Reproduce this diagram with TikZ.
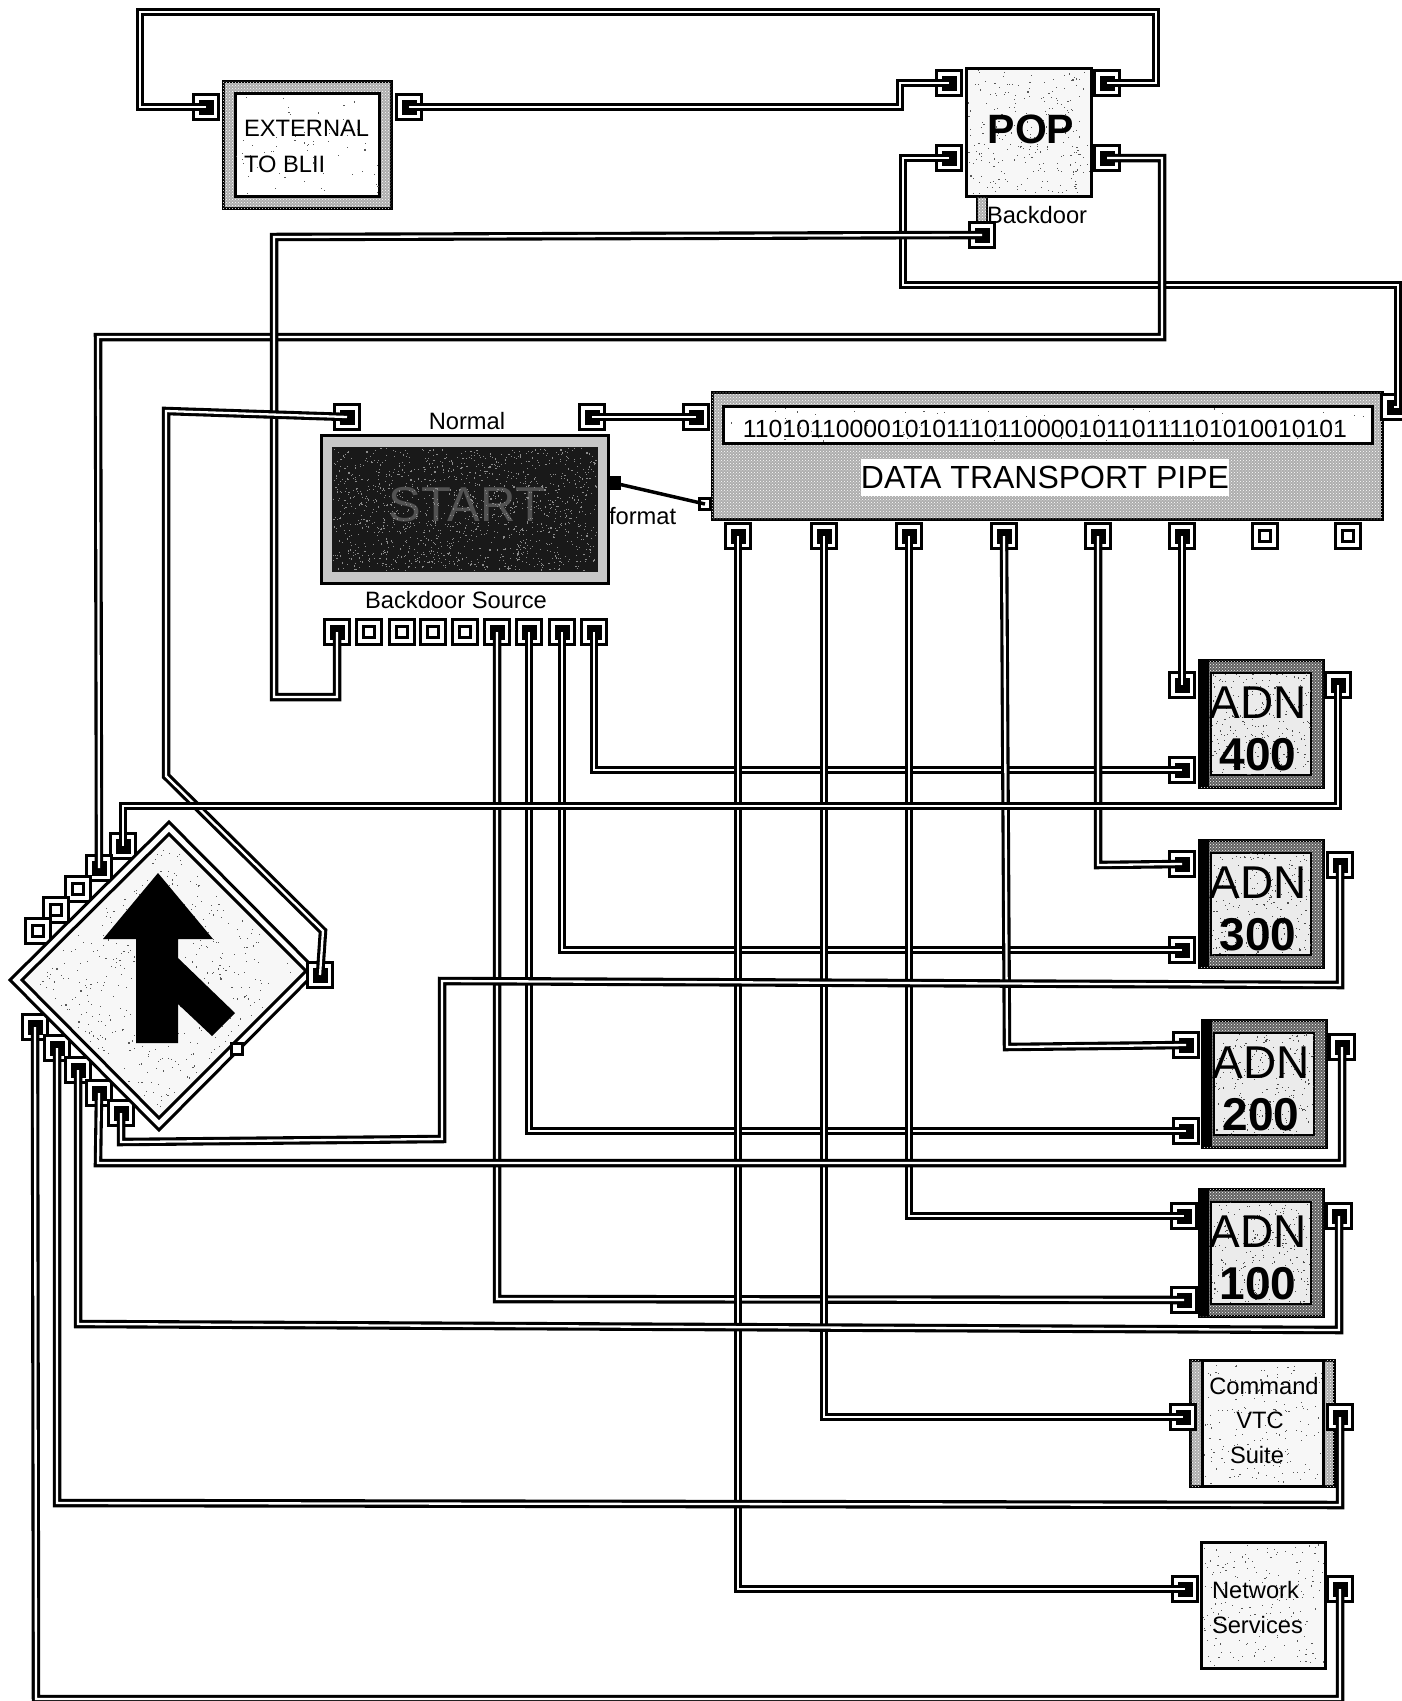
\documentclass[tikz,border=0pt]{standalone}
\usepackage{fontspec}
\setmainfont{Liberation Sans}
\usetikzlibrary{patterns}
\newcommand{\fsz}[1]{\fontsize{#1}{#1}\selectfont}
\tikzset{
  x=1pt,y=-1pt,
  wire/.style={draw=black,line width=3.1pt,double=white,double distance=2.3pt,miter limit=10},
  portouter/.style={draw=black,fill=white,line width=3pt,minimum size=25pt,inner sep=0pt,outer sep=0pt},
  portfull/.style={draw=none,fill=black,minimum size=15pt,inner sep=0pt,outer sep=0pt},
  portempty/.style={draw=black,line width=3.8pt,fill=white,minimum size=11pt,inner sep=0pt,outer sep=0pt},
  tinyport/.style={draw=black,line width=3pt,fill=white,minimum size=11pt,inner sep=0pt,outer sep=0pt},
  tinyfull/.style={draw=black,line width=3pt,fill=black,minimum size=11pt,inner sep=0pt,outer sep=0pt},
  lbl/.style={inner sep=0pt,outer sep=0pt,font=\fsz{23.7}},
  lbll/.style={lbl,anchor=west},
  box/.style={draw=black,line width=3pt,inner sep=0pt,outer sep=0pt,anchor=north west},
  halftone/.style={fill=black!32,postaction={pattern=crosshatch dots,pattern color=white}},
  halfdark/.style={fill=black!62,postaction={pattern=crosshatch dots,pattern color=white}},
}
% connected port: black centre; open port: white centre
\newcommand{\pc}[3]{\node[portouter] (#1) at (#2,#3) {};\node[portfull] (#1-i) at (#1.center) {};}
\newcommand{\po}[3]{\node[portouter] (#1) at (#2,#3) {};\node[portempty] (#1-i) at (#1.center) {};}
% sized rectangle node helper: name, x0, y0, x1, y1, style
\newcommand{\rbox}[6]{%
  \pgfmathsetmacro\bw{#4-#2}\pgfmathsetmacro\bh{#5-#3}%
  \node[box,minimum width=\bw pt,minimum height=\bh pt,#6] (#1) at (#2,#3) {};}
% speckle: origin, vector a, vector b, count, colour
\newcommand{\speckle}[8]{%
  \foreach \q in {1,...,#7}{%
    \pgfmathsetmacro\uu{rnd}\pgfmathsetmacro\vv{rnd}%
    \pgfmathsetmacro\px{#1+\uu*#3+\vv*#5}\pgfmathsetmacro\py{#2+\uu*#4+\vv*#6}%
    \fill[#8] (\px,\py) rectangle +(1.1,1.1);}}
% ADN box: name, left, top, number
\newcommand{\adn}[4]{%
  \pgfmathsetmacro\xa{#2+124}\pgfmathsetmacro\ya{#3+127}%
  \pgfmathsetmacro\ia{#2+12}\pgfmathsetmacro\ib{#3+13}\pgfmathsetmacro\ic{#2+112}\pgfmathsetmacro\id{#3+115}%
  \pgfmathsetmacro\sa{#2+10}\pgfmathsetmacro\tx{#2+59}\pgfmathsetmacro\ta{#3+43}\pgfmathsetmacro\tb{#3+95}%
  \rbox{#1}{#2}{#3}{\xa}{\ya}{halfdark}
  \rbox{#1-s}{#2}{#3}{\sa}{\ya}{draw=none,fill=black}
  \rbox{#1-w}{\ia}{\ib}{\ic}{\id}{fill=black!8,line width=2.6pt}
  \speckle{\ia}{\ib}{100}{0}{0}{102}{240}{black!70}
  \node[lbl,font=\fsz{46}] (#1-t) at (\tx,\ta) {ADN};
  \node[lbl,font=\fsz{46}\bfseries] (#1-n) at (\tx,\tb) {#4};
}
\begin{document}
\begin{tikzpicture}
\useasboundingbox (0,0) rectangle (1402,1701);
\pgfmathsetseed{1234}

% ---------- EXTERNAL
\rbox{ext}{223}{81}{391}{208}{halftone}
\rbox{extw}{235}{93}{379}{196}{fill=white,line width=3pt}
\speckle{236}{94}{142}{0}{0}{100}{60}{black!65}
\node[lbll] (extt1) at (244,128) {EXTERNAL};
\node[lbll] (extt2) at (244,164) {TO BLII};
\pc{extL}{206}{107}
\pc{extR}{409}{107}

% ---------- POP
\rbox{pop}{966}{68}{1091}{196}{fill=black!3}
\speckle{968}{70}{121}{0}{0}{124}{240}{black!65}
\node[lbl,font=\fsz{41}\bfseries] (popt) at (1031,129) {POP};
\pc{popTL}{949}{83}
\pc{popTR}{1107}{83}
\pc{popBL}{949}{158}
\pc{popBR}{1107}{158}
\rbox{stem}{977}{197}{987}{226}{halftone,line width=2.5pt}
\pc{popB}{982}{235}
\node[lbll] (bdt) at (987,215) {Backdoor};

% ---------- START
\rbox{start}{321}{435}{608}{583}{fill=black!22}
\rbox{starti}{332}{447}{598}{572}{draw=none,fill=black!90}
\node[lbl,font=\fsz{49},text=black!68] (startt) at (467,505) {START};
\speckle{333}{448}{263}{0}{0}{122}{1400}{black!45}
\pc{stN}{347}{417}
\pc{stO}{592}{417}
\node[lbl] (normal) at (467,421) {Normal};
\node[tinyfull] (stF) at (614,483) {};
\node[lbll] (fmt) at (609,516) {format};
\node[lbl] (bsrc) at (456,600) {Backdoor Source};
\pc{b1}{337}{632}
\po{b2}{369}{632}
\po{b3}{402}{632}
\po{b4}{433}{632}
\po{b5}{465}{632}
\pc{b6}{497}{632}
\pc{b7}{529}{632}
\pc{b8}{562}{632}
\pc{b9}{594}{632}

% ---------- DATA TRANSPORT PIPE
\rbox{dtp}{712}{392}{1382}{519}{halftone}
\rbox{dtpw}{723}{406}{1372}{443}{fill=white,line width=3pt}
\speckle{725}{408}{645}{0}{0}{33}{70}{black!65}
\node[lbl,font=\fsz{24.8}] (bits) at (1045,429) {110101100001010111011000010110111101010010101};
\node[fill=white,inner sep=0pt,outer sep=0pt,minimum width=367pt,minimum height=37pt,font=\fsz{32}] (dtpt) at (1045,477) {DATA TRANSPORT PIPE};
\pc{dtpI}{696}{417}
\pc{dtpE}{1394}{407}
\node[tinyport] (dtpF) at (705,504) {};
\pc{d1}{738}{536}
\pc{d2}{824}{536}
\pc{d3}{909}{536}
\pc{d4}{1004}{536}
\pc{d5}{1098}{536}
\pc{d6}{1182}{536}
\po{d7}{1265}{536}
\po{d8}{1348}{536}

% ---------- ADN boxes
\adn{a4}{1199}{660}{400}
\pc{a4t}{1182}{685}\pc{a4b}{1182}{770}\pc{a4r}{1338}{685}
\adn{a3}{1199}{840}{300}
\pc{a3t}{1182}{864}\pc{a3b}{1182}{950}\pc{a3r}{1340}{865}
\adn{a2}{1202}{1020}{200}
\pc{a2t}{1186}{1045}\pc{a2b}{1186}{1131}\pc{a2r}{1342}{1047}
\adn{a1}{1199}{1189}{100}
\pc{a1t}{1184}{1216}\pc{a1b}{1184}{1300}\pc{a1r}{1339}{1216}

% ---------- Command VTC Suite
\rbox{cmd}{1190}{1360}{1334}{1486}{halftone}
\rbox{cmdw}{1202}{1360}{1323}{1486}{fill=black!3,draw=black,line width=3pt}
\speckle{1204}{1363}{117}{0}{0}{120}{180}{black!65}
\node[lbl] (cmd1) at (1264,1386) {Command};
\node[lbl] (cmd2) at (1260,1420) {VTC};
\node[lbl] (cmd3) at (1257,1455) {Suite};
\pc{cmdL}{1183}{1417}
\pc{cmdR}{1340}{1417}

% ---------- Network Services
\rbox{net}{1201}{1542}{1325}{1668}{fill=black!3}
\speckle{1203}{1544}{120}{0}{0}{122}{180}{black!65}
\node[lbll] (net1) at (1212,1590) {Network};
\node[lbll] (net2) at (1212,1625) {Services};
\pc{netL}{1185}{1589}
\pc{netR}{1340}{1589}

% ---------- merge sign
\pc{dTa}{123}{846}
\pc{dTb}{99}{868}
\po{dTc}{78}{889}
\po{dTd}{56}{910}
\po{dTe}{38}{931}
\pc{dLa}{35}{1027}
\pc{dLb}{57}{1048}
\pc{dLc}{78}{1070}
\pc{dLd}{99}{1093}
\pc{dLe}{121}{1113}
\draw[black,line width=3pt,fill=white,miter limit=10] (169,822) -- (317,971) -- (159,1130) -- (10,980) -- cycle;
\draw[black,line width=3pt,fill=black!3,miter limit=10] (169,834) -- (306,971) -- (159,1118) -- (22,980) -- cycle;
\speckle{167}{842}{130}{130}{-139}{139}{420}{black!65}
\fill[black] (158,873) -- (213,939) -- (178,939) -- (178,958) -- (235,1013) -- (212,1036) -- (178,1004) -- (178,1043) -- (136,1043) -- (136,939) -- (103,939) -- cycle;
\pc{dR}{320}{975}
\node[tinyport] (dS) at (237,1049) {};

% ---------- connectors
\draw[wire] (extL.center) -- (140,107) -- (140,12) -- (1156,12) -- (1156,83) -- (popTR.center);
\draw[wire] (extR.center) -- (900,107) -- (900,83) -- (popTL.center);
\draw[wire] (popBL.center) -- (903,158) -- (903,285) -- (1398,285) -- (1398,407) -- (dtpE.center);
\draw[wire] (popBR.center) -- (1162,158) -- (1162,337) -- (98,337) -- (dTb.center);
\draw[wire] (popB.center) -- (274,237) -- (274,697) -- (337,697) -- (b1.center);
\draw[wire] (stN.center) -- (166,411) -- (166,776) -- (323,931) -- (dR.center);
\draw[wire] (stO.center) -- (dtpI.center);
\draw[black,line width=3.5pt] (stF.center) -- (dtpF.center);
\draw[wire] (b6.center) -- (497,1299) -- (a1b.center);
\draw[wire] (b7.center) -- (529,1131) -- (a2b.center);
\draw[wire] (b8.center) -- (562,950) -- (a3b.center);
\draw[wire] (b9.center) -- (594,770) -- (a4b.center);
\draw[wire] (d1.center) -- (738,1589) -- (netL.center);
\draw[wire] (d2.center) -- (824,1417) -- (cmdL.center);
\draw[wire] (d3.center) -- (909,1216) -- (a1t.center);
\draw[wire] (d4.center) -- (1007,1047) -- (a2t.center);
\draw[wire] (d5.center) -- (1098,865) -- (a3t.center);
\draw[wire] (d6.center) -- (a4t.center);
\draw[wire] (a4r.center) -- (1338,806) -- (123,806) -- (dTa.center);
\draw[wire] (a3r.center) -- (1340,985) -- (442,981) -- (442,1139) -- (121,1142) -- (dLe.center);
\draw[wire] (a2r.center) -- (1342,1163) -- (98,1163) -- (dLd.center);
\draw[wire] (a1r.center) -- (1339,1330) -- (78,1324) -- (dLc.center);
\draw[wire] (cmdR.center) -- (1340,1505) -- (57,1503) -- (dLb.center);
\draw[wire] (netR.center) -- (1340,1699) -- (36,1699) -- (dLa.center);
\end{tikzpicture}
\end{document}
